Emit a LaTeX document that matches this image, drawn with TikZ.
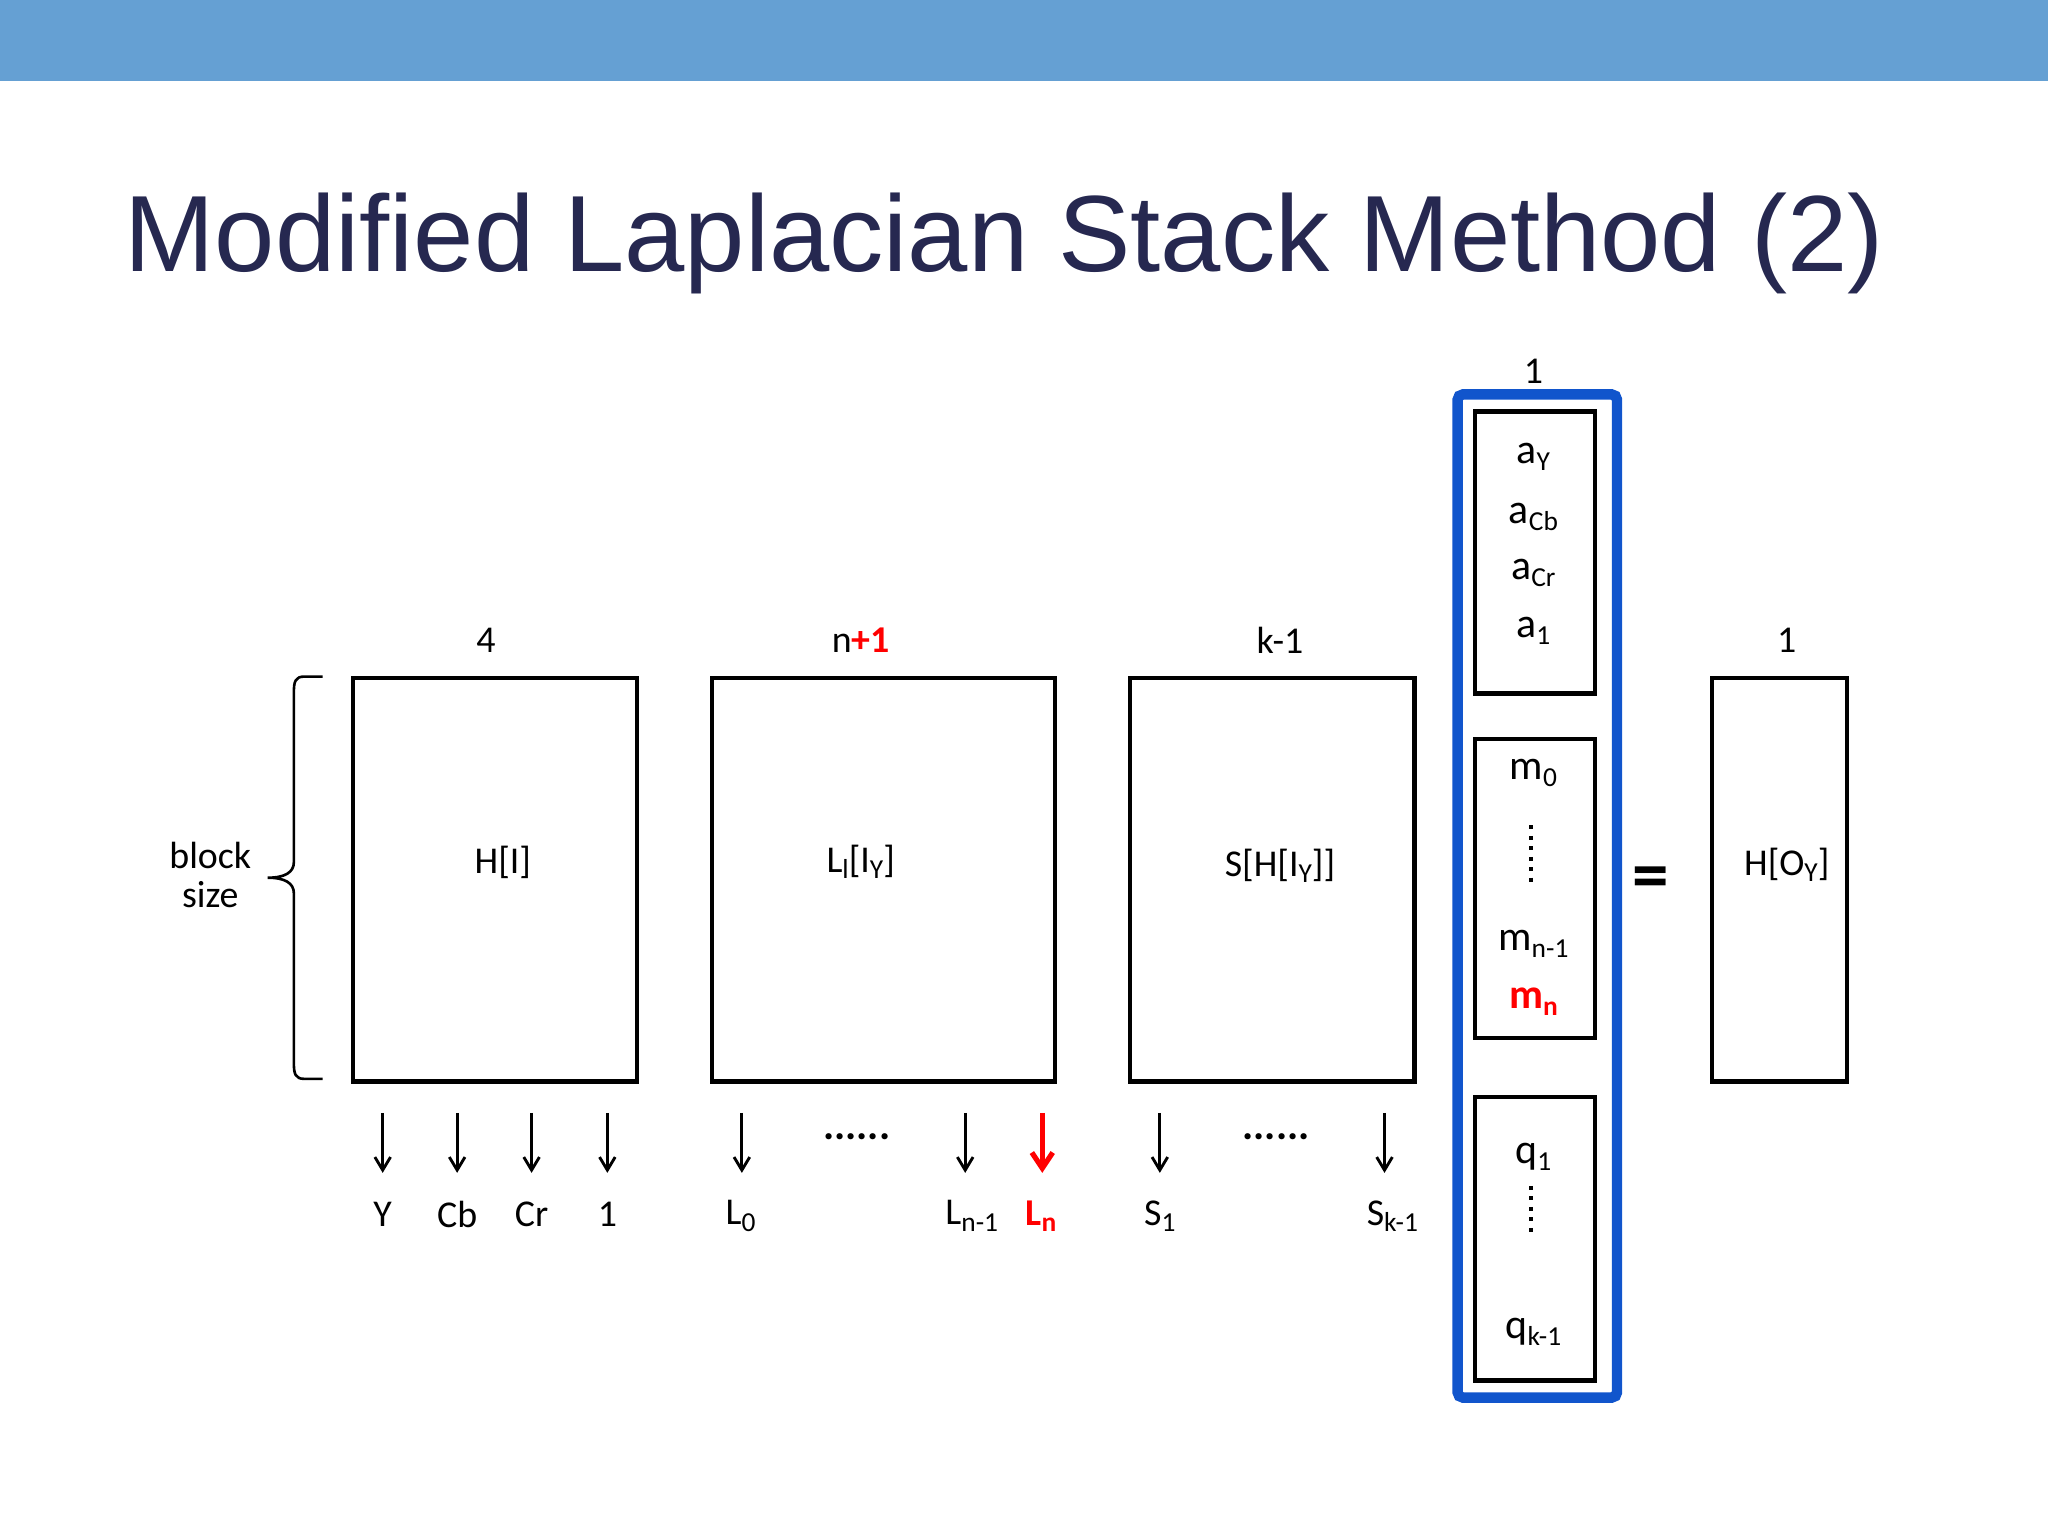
\documentclass[tikz,border=0pt]{standalone}
\usepackage{fontspec}
\setmainfont{Carlito}
\newfontfamily\titlefont{Liberation Sans}
\usetikzlibrary{arrows.meta,decorations.pathreplacing}
\definecolor{topbar}{HTML}{65A0D3}
\definecolor{navy}{HTML}{262850}
\definecolor{frameblue}{HTML}{1155CC}
\newcommand{\sbx}[1]{\raisebox{-0.35ex}{\fontsize{10.5}{10}\selectfont #1}}
\begin{document}
\begin{tikzpicture}[x=0.5pt,y=-0.5pt,
  box/.style={draw=black,line width=1.6pt},
  lab/.style={font=\fontsize{14.5}{16}\selectfont,inner sep=1pt},
  inn/.style={font=\fontsize{16}{17}\selectfont,inner sep=1pt},
  arr/.style={-{Straight Barb[length=5pt,width=6pt]},line width=1.1pt}]
\useasboundingbox (0,0) rectangle (1568,1176);
\fill[topbar] (0,0) rectangle (1568,62);
\node[anchor=base west,inner sep=0,text=navy,font=\titlefont\fontsize{41.5}{50}\selectfont] (title) at (95,208) {Modified Laplacian Stack Method (2)};
% main boxes
\draw[box] (270,519) rectangle (488,828);
\node[lab] (hI) at (385,660) {H[I]};
\draw[box] (545,519) rectangle (808,828);
\node[lab] (lI) at (659,660) {L\sbx{l}[I\sbx{Y}]};
\draw[box] (865,519) rectangle (1083,828);
\node[lab] (sI) at (980,663) {S[H[I\sbx{Y}]]};
\draw[box] (1311,519) rectangle (1414,828);
\node[lab] (hO) at (1368,662) {H[O\sbx{Y}]};
\node[lab] (t1) at (372,490) {4};
\node[lab] (t2) at (659,490) {n\textcolor{red}{\textbf{+1}}};
\node[lab] (t3) at (980,490) {k-1};
\node[lab] (t4) at (1368,490) {1};
\node[lab] (t5) at (1174,284) {1};
% blue frame
\draw[frameblue,line width=4pt,rounded corners=2pt] (1116,302) rectangle (1238,1070);
\draw[box] (1129,315) rectangle (1221,531);
\draw[box] (1129,566) rectangle (1221,795);
\draw[box] (1129,840) rectangle (1221,1057);
\node[inn] (ay) at (1174,350) {a\sbx{Y}};
\node[inn] (acb) at (1174,396) {a\sbx{Cb}};
\node[inn] (acr) at (1174,439) {a\sbx{Cr}};
\node[inn] (a1) at (1174,483) {a\sbx{1}};
\node[inn] (m0) at (1174,592) {m\sbx{0}};
\draw[line width=1.5pt,dash pattern=on 1.5pt off 2.5pt] (1172,632) -- (1172,676);
\node[inn] (mn1) at (1174,723) {m\sbx{n-1}};
\node[inn,text=red,font=\fontsize{16}{17}\selectfont\bfseries] (mn) at (1174,767) {m\sbx{n}};
\node[inn] (q1) at (1174,886) {q\sbx{1}};
\draw[line width=1.5pt,dash pattern=on 1.5pt off 2.5pt] (1172,908) -- (1172,948);
\node[inn] (qk) at (1174,1020) {q\sbx{k-1}};
\node[font=\fontsize{28}{28}\selectfont\bfseries] (eq) at (1264,676) {=};
% brace
\draw[line width=1pt] (247,518) -- (233,518) .. controls (226,518) and (225,522) .. (225,530) -- (225,660) .. controls (225,668) and (218,672) .. (205,672) .. controls (218,672) and (225,676) .. (225,684) -- (225,814) .. controls (225,822) and (226,826) .. (233,826) -- (247,826);
\node[lab,align=center] (bs) at (161,670) {block\\[-1pt] size};
% arrows and labels
\foreach \x/\n/\t in {293/a/Y,350/b/Cb,407/c/Cr,465/d/1}{
  \coordinate (s\n) at (\x,852); \coordinate (e\n) at (\x,898);
  \draw[arr] (s\n) -- (e\n);
  \node[lab] (l\n) at (\x,930) {\t};
}
\foreach \x/\n in {568/e,739/f,888/g,1060/h}{
  \coordinate (s\n) at (\x,852); \coordinate (e\n) at (\x,898);
  \draw[arr] (s\n) -- (e\n);
}
\coordinate (sr) at (798,852); \coordinate (er) at (798,898);
\draw[arr,red,line width=2pt,-{Straight Barb[length=6pt,width=8pt]}] (sr) -- (er);
\node[lab] (le) at (567,931) {L\sbx{0}};
\node[lab] (lf) at (744,931) {L\sbx{n-1}};
\node[lab,text=red,font=\fontsize{14.5}{16}\selectfont\bfseries] (lr) at (797,931) {L\sbx{n}};
\node[lab] (lg) at (888,931) {S\sbx{1}};
\node[lab] (lh) at (1066,931) {S\sbx{k-1}};
\node[lab,font=\fontsize{16}{16}\selectfont\bfseries] (d1) at (656,870) {......};
\node[lab,font=\fontsize{16}{16}\selectfont\bfseries] (d2) at (977,870) {......};
\end{tikzpicture}
\end{document}
